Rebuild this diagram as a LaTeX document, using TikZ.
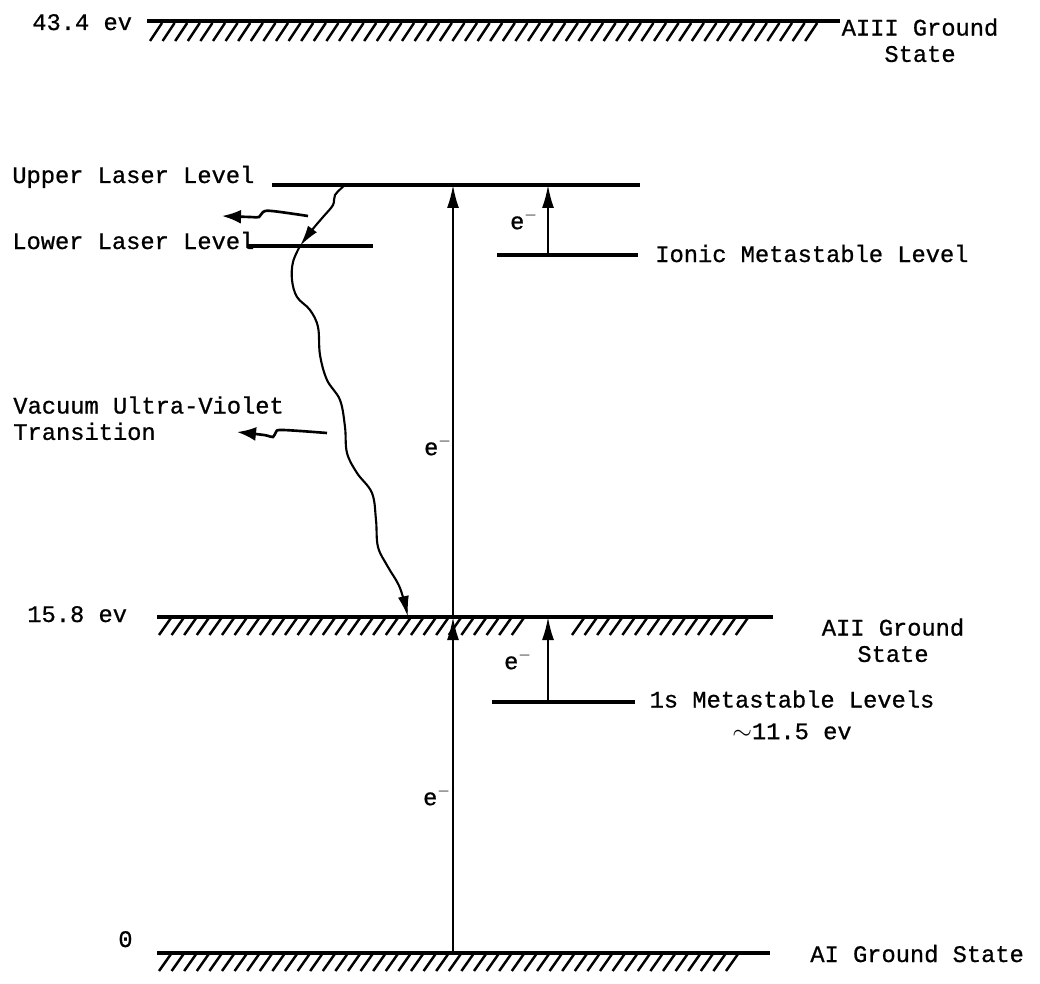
\documentclass[tikz,border=0pt]{standalone}
\usepackage{fontspec}
\setmonofont[FakeBold=0.8]{Liberation Mono}
\usetikzlibrary{arrows.meta}

\begin{document}
\begin{tikzpicture}[x=0.02cm, y=-0.02cm,
    font=\ttfamily\fontsize{13.5}{15}\selectfont,
    level/.style={line width=2.4pt},
    hatchmark/.style={line width=1.4pt},
    eline/.style={line width=1.2pt, -{Latex[length=4.6mm,width=2.4mm]}},
    wave/.style={line width=1.2pt, -{Latex[length=4.2mm,width=2.2mm]}},
    photon/.style={line width=1.5pt, -{Latex[length=3.8mm,width=2.8mm]}},
    lbl/.style={inner sep=0pt}]
  \useasboundingbox (0,0) rectangle (1040,983);

  % levels
  \coordinate (aiii-w) at (147,21);  \coordinate (aiii-e) at (840,21);
  \coordinate (ul-w) at (272,185);   \coordinate (ul-e) at (640,185);
  \coordinate (ll-w) at (247,246);   \coordinate (ll-e) at (373,246);
  \coordinate (im-w) at (497,255);   \coordinate (im-e) at (638,255);
  \coordinate (aii-w) at (157,617);  \coordinate (aii-e) at (773,617);
  \coordinate (ms-w) at (492,702);   \coordinate (ms-e) at (635,702);
  \coordinate (ai-w) at (157,953);   \coordinate (ai-e) at (770,953);

  \draw[level] (aiii-w) -- (aiii-e);
  \draw[level] (ul-w) -- (ul-e);
  \draw[level] (ll-w) -- (ll-e);
  \draw[level] (im-w) -- (im-e);
  \draw[level] (aii-w) -- (aii-e);
  \draw[level] (ms-w) -- (ms-e);
  \draw[level] (ai-w) -- (ai-e);

  % hatching under the ground states
  \foreach \x in {150,162.6,...,806} \draw[hatchmark] (\x,41) -- ++(12,-18);
  \foreach \x in {159,171.6,...,514} \draw[hatchmark] (\x,635) -- ++(12,-17);
  \foreach \x in {572,584.6,...,736} \draw[hatchmark] (\x,635) -- ++(12,-17);
  \foreach \x in {159,171.6,...,736} \draw[hatchmark] (\x,971) -- ++(12,-17);

  % electron excitation
  \coordinate (ex-ai) at (453,953);
  \coordinate (ex-aii) at (453,617);
  \coordinate (ex-ul) at (453,185);
  \coordinate (ex-ms) at (548,702);
  \coordinate (ex-aii2) at (548,617);
  \coordinate (ex-im) at (548,255);
  \coordinate (ex-ul2) at (548,185);
  \draw[eline] (ex-ai) -- (ex-aii);
  \draw[eline] (ex-aii) -- (ex-ul);
  \draw[eline] (ex-ms) -- (ex-aii2);
  \draw[eline] (ex-im) -- (ex-ul2);

  \node[lbl] (e-up) at (524,220) {e$^{\mathbf{-}}$};
  \node[lbl] (e-mid) at (438,446) {e$^{\mathbf{-}}$};
  \node[lbl] (e-ms) at (518,660) {e$^{\mathbf{-}}$};
  \node[lbl] (e-low) at (437,796) {e$^{\mathbf{-}}$};

  % vacuum ultra-violet transition
  \coordinate (vuv-top) at (345,185);
  \coordinate (vuv-mid) at (300,246);
  \coordinate (vuv-end) at (408,617);
  \draw[wave] plot[smooth, tension=0.6] coordinates {(vuv-top) (335,195) (333,205) (323,217) (312,230) (vuv-mid)};
  \draw[wave] plot[smooth, tension=0.6] coordinates {(vuv-mid) (293,262) (292,280) (297,297) (310,310) (318,327)
      (320,355) (327,380) (340,400) (345,427) (347,453) (357,473) (372,493) (376,520) (378,547)
      (388,567) (400,588) (vuv-end)};

  % pointers to the labels
  \coordinate (pt-ll) at (308,216);  \coordinate (pt-ll-tip) at (222,216);
  \coordinate (pt-vuv) at (327,433); \coordinate (pt-vuv-tip) at (237,432);
  \draw[photon] plot[smooth, tension=0.6] coordinates {(pt-ll) (272,211) (263,212) (259,217) (250,217) (pt-ll-tip)};
  \draw[photon] plot[smooth, tension=0.6] coordinates {(pt-vuv) (283,430) (276,432) (273,437) (264,435) (pt-vuv-tip)};

  % labels
  \node[lbl, anchor=base west] (l-434) at (32,30) {43.4 ev};
  \node[lbl, anchor=north, align=center] (l-aiii) at (920,18) {AIII Ground\\State};
  \node[lbl, anchor=base west] (l-ul) at (12,183) {Upper Laser Level};
  \node[lbl, anchor=base west] (l-ll) at (12,249) {Lower Laser Level};
  \node[lbl, anchor=base west] (l-im) at (655,262) {Ionic Metastable Level};
  \node[lbl, anchor=north west, align=left] (l-vuv) at (13,396) {Vacuum Ultra-Violet\\Transition};
  \node[lbl, anchor=base west] (l-158) at (27,622) {15.8 ev};
  \node[lbl, anchor=north, align=center] (l-aii) at (893,618) {AII Ground\\State};
  \node[lbl, anchor=north, align=center] (l-ms) at (792,690) {1s Metastable Levels\\[3pt]$\sim$11.5 ev};
  \node[lbl, anchor=base west] (l-0) at (118,947) {0};
  \node[lbl, anchor=base west] (l-ai) at (810,962) {AI Ground State};
\end{tikzpicture}
\end{document}
